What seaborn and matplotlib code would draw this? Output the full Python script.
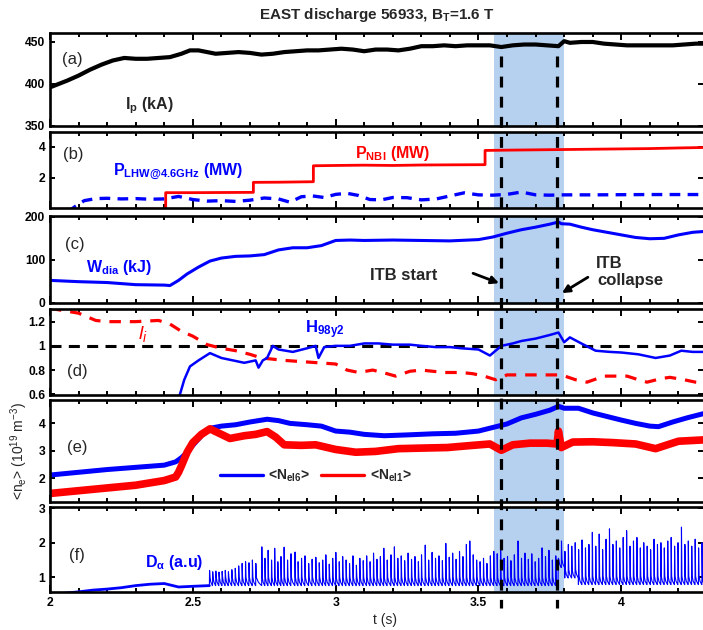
import numpy as np
import matplotlib
matplotlib.use("Agg")
import matplotlib.pyplot as plt
import seaborn as sns
from matplotlib.lines import Line2D
from matplotlib import transforms
from matplotlib.ticker import MultipleLocator

# ---------------------------------------------------------------- data
# (a) plasma current, kA
ip_t = [2.00, 2.03, 2.06, 2.10, 2.14, 2.18, 2.22, 2.26, 2.30, 2.34, 2.38, 2.42, 2.46, 2.49,
        2.52, 2.55, 2.58, 2.62, 2.66, 2.70, 2.74, 2.78, 2.82, 2.86, 2.90, 2.94, 2.98, 3.02,
        3.06, 3.10, 3.14, 3.18, 3.22, 3.26, 3.30, 3.34, 3.38, 3.42, 3.46, 3.50, 3.54, 3.58,
        3.62, 3.66, 3.70, 3.74, 3.78, 3.80, 3.82, 3.86, 3.90, 3.94, 3.98, 4.02, 4.06, 4.10,
        4.14, 4.18, 4.22, 4.26, 4.29]
ip_v = [396, 400, 404, 410, 417, 423, 428, 431, 430, 430, 431, 432, 436, 440,
        440, 438, 436, 437, 438, 437, 435, 436, 438, 439, 440, 440, 441, 442,
        441, 439, 441, 441, 440, 442, 445, 445, 446, 445, 446, 446, 446, 444,
        446, 447, 447, 446, 445, 451, 449, 450, 450, 448, 447, 446, 446, 446,
        446, 446, 447, 448, 448]

# (b) heating powers, MW
nbi_t = [2.000, 2.405, 2.405, 2.500, 2.600, 2.712, 2.712, 2.800, 2.922, 2.922, 3.000, 3.100,
         3.200, 3.300, 3.400, 3.523, 3.523, 3.600, 3.700, 3.800, 3.900, 4.000, 4.100, 4.200, 4.290]
nbi_v = [0.00, 0.00, 1.06, 1.06, 1.07, 1.08, 1.72, 1.73, 1.76, 2.78, 2.80, 2.82,
         2.80, 2.83, 2.84, 2.85, 3.76, 3.78, 3.80, 3.82, 3.84, 3.86, 3.88, 3.92, 3.95]
lhw_t = [2.00, 2.06, 2.09, 2.12, 2.16, 2.20, 2.25, 2.30, 2.35, 2.40, 2.45, 2.50, 2.55, 2.60,
         2.65, 2.70, 2.75, 2.80, 2.84, 2.88, 2.92, 2.96, 3.00, 3.04, 3.08, 3.12, 3.16, 3.20,
         3.25, 3.30, 3.35, 3.40, 3.45, 3.50, 3.55, 3.60, 3.65, 3.70, 3.75, 3.80, 3.90, 4.00,
         4.10, 4.20, 4.29]
lhw_v = [-0.50, -0.20, 0.20, 0.55, 0.68, 0.70, 0.66, 0.68, 0.64, 0.66, 0.82, 0.62, 0.52, 0.55,
         0.50, 0.58, 0.72, 0.66, 0.45, 0.80, 0.85, 0.75, 0.95, 1.02, 0.88, 0.62, 0.60, 0.75,
         0.74, 0.60, 0.65, 0.85, 1.05, 0.92, 0.90, 0.95, 1.10, 0.92, 0.90, 0.92, 0.92, 0.93,
         0.94, 0.94, 0.94]

# (c) diamagnetic stored energy, kJ
wdia_t = [2.00, 2.10, 2.20, 2.30, 2.40, 2.42, 2.45, 2.48, 2.52, 2.56, 2.60, 2.65, 2.70, 2.75,
          2.80, 2.85, 2.90, 2.95, 3.00, 3.05, 3.10, 3.20, 3.30, 3.40, 3.50, 3.55, 3.60, 3.65,
          3.70, 3.75, 3.78, 3.79, 3.82, 3.86, 3.90, 3.95, 4.00, 4.05, 4.10, 4.15, 4.20, 4.25, 4.29]
wdia_v = [52, 49, 47, 42, 41, 40, 52, 67, 83, 97, 104, 108, 109, 112,
          123, 128, 128, 133, 145, 146, 145, 146, 145, 144, 147, 153, 162, 170,
          176, 183, 188, 184, 183, 176, 170, 164, 158, 152, 149, 150, 158, 164, 166]

# (d) internal inductance and confinement factor
li_t = [2.00, 2.05, 2.10, 2.16, 2.20, 2.30, 2.38, 2.42, 2.46, 2.50, 2.55, 2.60, 2.65, 2.70,
        2.74, 2.78, 2.82, 2.88, 2.94, 3.00, 3.04, 3.08, 3.13, 3.18, 3.21, 3.26, 3.30, 3.38,
        3.44, 3.48, 3.52, 3.56, 3.60, 3.66, 3.73, 3.79, 3.84, 3.88, 3.94, 4.02, 4.06, 4.09,
        4.14, 4.17, 4.22, 4.26, 4.29]
li_v = [1.31, 1.29, 1.27, 1.21, 1.20, 1.20, 1.21, 1.18, 1.12, 1.08, 1.01, 0.98, 0.96, 0.93,
        0.90, 0.89, 0.88, 0.87, 0.86, 0.85, 0.80, 0.78, 0.80, 0.77, 0.75, 0.79, 0.80, 0.78,
        0.78, 0.77, 0.75, 0.72, 0.76, 0.76, 0.76, 0.76, 0.72, 0.70, 0.75, 0.75, 0.72, 0.70,
        0.73, 0.74, 0.72, 0.70, 0.69]
h98_t = [2.440, 2.455, 2.470, 2.490, 2.520, 2.560, 2.600, 2.640, 2.680, 2.720, 2.730, 2.745,
         2.760, 2.780, 2.800, 2.850, 2.900, 2.930, 2.940, 2.960, 3.000, 3.050, 3.100, 3.150,
         3.200, 3.260, 3.300, 3.350, 3.400, 3.440, 3.500, 3.540, 3.580, 3.620, 3.650, 3.700,
         3.750, 3.780, 3.800, 3.820, 3.860, 3.910, 3.960, 4.000, 4.060, 4.120, 4.170, 4.210,
         4.250, 4.290]
h98_v = [0.50, 0.60, 0.72, 0.83, 0.88, 0.94, 0.90, 0.88, 0.86, 0.88, 0.82, 0.88,
         0.90, 1.00, 0.97, 0.95, 0.98, 1.00, 0.90, 0.99, 1.00, 1.00, 1.02, 1.02,
         1.01, 1.01, 1.00, 0.99, 0.99, 0.98, 0.97, 0.92, 1.00, 1.02, 1.04, 1.06,
         1.09, 1.11, 1.03, 1.07, 1.02, 0.96, 0.95, 0.945, 0.93, 0.90, 0.92, 0.96,
         0.95, 0.95]

# (e) line-averaged densities, 1e19 m^-3
ne6_t = [2.00, 2.10, 2.20, 2.30, 2.40, 2.44, 2.46, 2.48, 2.50, 2.53, 2.56, 2.60, 2.65, 2.70,
         2.76, 2.80, 2.84, 2.90, 2.95, 3.00, 3.05, 3.10, 3.17, 3.25, 3.34, 3.42, 3.50, 3.55,
         3.60, 3.65, 3.70, 3.75, 3.78, 3.80, 3.85, 3.90, 3.95, 4.00, 4.05, 4.10, 4.13, 4.18,
         4.23, 4.29]
ne6_v = [2.12, 2.22, 2.32, 2.40, 2.48, 2.60, 2.75, 2.95, 3.20, 3.55, 3.82, 3.90, 3.95, 4.05,
         4.15, 4.10, 4.00, 3.95, 3.90, 3.72, 3.68, 3.60, 3.55, 3.58, 3.62, 3.64, 3.72, 3.85,
         3.98, 4.20, 4.33, 4.48, 4.62, 4.55, 4.55, 4.38, 4.25, 4.12, 4.00, 3.90, 3.88, 4.05,
         4.20, 4.36]
ne1_t = [2.00, 2.10, 2.20, 2.30, 2.40, 2.44, 2.45, 2.46, 2.47, 2.48, 2.50, 2.53, 2.56, 2.60,
         2.63, 2.68, 2.72, 2.76, 2.79, 2.82, 2.88, 2.93, 3.00, 3.07, 3.14, 3.22, 3.30, 3.39,
         3.48, 3.54, 3.58, 3.62, 3.68, 3.74, 3.775, 3.78, 3.79, 3.83, 3.90, 3.97, 4.05, 4.12,
         4.20, 4.29]
ne1_v = [1.45, 1.55, 1.65, 1.75, 1.92, 2.05, 2.22, 2.45, 2.70, 2.95, 3.30, 3.60, 3.80, 3.60,
         3.45, 3.55, 3.60, 3.70, 3.50, 3.22, 3.20, 3.22, 3.05, 2.95, 2.98, 3.08, 3.10, 3.12,
         3.20, 3.25, 3.02, 3.22, 3.28, 3.28, 3.25, 3.72, 3.12, 3.32, 3.33, 3.30, 3.25, 3.08,
         3.35, 3.40]

# (f) D-alpha emission: L-mode level, ELM times and ELM peak heights (a.u.)
dalpha_pre_t = [2.00, 2.10, 2.15, 2.20, 2.25, 2.30, 2.35, 2.40, 2.42, 2.45, 2.50, 2.558]
dalpha_pre_v = [0.50, 0.58, 0.63, 0.66, 0.70, 0.76, 0.80, 0.82, 0.78, 0.72, 0.74, 0.76]
elm_t = [2.558, 2.569, 2.580, 2.591,
         2.602, 2.613, 2.624, 2.636, 2.648, 2.660, 2.672, 2.684, 2.696,
         2.708, 2.720, 2.741, 2.752, 2.763, 2.775, 2.786, 2.797,
         2.808, 2.819, 2.831, 2.843, 2.857, 2.868, 2.880, 2.892,
         2.905, 2.917, 2.930, 2.942, 2.954, 2.965, 2.977, 2.989,
         3.000, 3.012, 3.024, 3.036, 3.048, 3.060, 3.072, 3.084, 3.096,
         3.108, 3.120, 3.132, 3.144, 3.156, 3.168, 3.180, 3.193,
         3.205, 3.217, 3.229, 3.241, 3.253, 3.265, 3.277, 3.289,
         3.300, 3.313, 3.325, 3.337, 3.349, 3.361, 3.373, 3.385, 3.397,
         3.409, 3.421, 3.433, 3.445, 3.457, 3.469, 3.481, 3.493,
         3.505, 3.517, 3.529, 3.541, 3.553, 3.565, 3.577, 3.589,
         3.601, 3.613, 3.625, 3.638, 3.650, 3.662, 3.674, 3.686, 3.698,
         3.710, 3.722, 3.734, 3.746, 3.758, 3.770, 3.779,
         3.790, 3.802, 3.814, 3.826, 3.838, 3.850, 3.862, 3.874, 3.886, 3.898,
         3.910, 3.922, 3.934, 3.946, 3.958, 3.970, 3.982, 3.994,
         4.006, 4.018, 4.030, 4.042, 4.054, 4.066, 4.078, 4.090,
         4.102, 4.114, 4.126, 4.138, 4.150, 4.162, 4.174, 4.186, 4.198,
         4.210, 4.222, 4.234, 4.246, 4.258, 4.270, 4.282]
elm_peak = [1.20, 1.16, 1.18, 1.15,
            1.17, 1.20, 1.16, 1.22, 1.26, 1.33, 1.40, 1.45, 1.42,
            1.50, 1.40, 1.88, 1.55, 1.78, 1.50, 1.84, 1.45,
            1.60, 1.87, 1.50, 1.68, 1.73, 1.45, 1.55, 1.62,
            1.40, 1.52, 1.58, 1.42, 1.50, 1.65, 1.38, 1.55,
            1.72, 1.45, 1.60, 1.50, 1.40, 1.62, 1.35, 1.55, 1.48,
            1.62, 1.45, 1.70, 1.52, 1.60, 1.84, 1.50, 1.65,
            1.88, 1.55, 1.62, 1.48, 1.70, 1.52, 1.60, 1.45,
            1.65, 1.93, 1.50, 1.72, 1.55, 1.62, 1.48, 1.98, 1.58,
            1.70, 1.52, 1.75, 1.60, 1.95, 2.05, 1.65, 1.50,
            1.45, 1.55, 1.40, 1.62, 1.75, 1.68, 1.85, 1.55,
            1.60, 1.48, 1.65, 2.05, 1.55, 1.70, 1.52, 1.68, 1.45,
            1.55, 1.85, 1.60, 1.78, 1.50, 1.62, 1.55,
            2.05, 1.75, 1.95, 1.90, 2.00, 1.80, 2.08, 1.85, 1.95, 2.30,
            1.90, 2.25, 1.80, 2.10, 2.40, 1.95, 2.05, 1.85,
            2.15, 2.35, 1.90, 2.05, 2.15, 1.85, 2.00, 1.90,
            1.80, 2.10, 1.95, 2.00, 1.85, 2.05, 2.15, 1.90, 2.00,
            2.45, 1.95, 2.05, 1.90, 2.10, 1.85, 2.00]
# inter-ELM floor level, stepwise in time
dalpha_floor_t = [2.55, 3.779, 3.800, 3.845]
dalpha_floor_v = [0.76, 1.28, 0.98, 0.79]

t_end = 4.29
itb_start, itb_collapse = 3.58, 3.776
itb_window = (3.553, 3.800)

# ---------------------------------------------------------------- style
BLUE, RED = "#0000ff", "#ff0000"
SHADE = "#b6d0f0"

sns.set_theme(style="ticks")
plt.rcParams.update({
    "font.family": ["Liberation Sans", "DejaVu Sans"],
    "mathtext.fontset": "custom",
    "mathtext.rm": "Liberation Sans",
    "mathtext.it": "Liberation Sans:italic",
    "mathtext.bf": "Liberation Sans:bold",
    "mathtext.sf": "Liberation Sans",
    "axes.linewidth": 1.9,
    "axes.edgecolor": "black",
    "xtick.color": "black",
    "ytick.color": "black",
})

W, H = 703, 630
fig = plt.figure(figsize=(W / 100, H / 100), dpi=100)

# panel boxes as (top, bottom) in pixels
boxes = [(33, 126), (131.7, 208.3), (216, 302.7), (309.3, 395), (400, 501.7), (506.7, 591.7)]
x0_px, x1_px = 50, 703
axes = []
for top, bot in boxes:
    ax = fig.add_axes([x0_px / W, 1 - bot / H, (x1_px - x0_px) / W, (bot - top) / H])
    axes.append(ax)

ylims = [(350, 460.7), (0.06, 4.96), (0, 202), (0.594, 1.302), (1.15, 4.85), (0.584, 3.04)]
yticks = [([350, 400, 450], ["350", "400", "450"]),
          ([2, 4], ["2", "4"]),
          ([0, 100, 200], ["0", "100", "200"]),
          ([0.6, 0.8, 1.0, 1.2], ["0.6", "0.8", "1", "1.2"]),
          ([2, 3, 4], ["2", "3", "4"]),
          ([1, 2, 3], ["1", "2", "3"])]

for i, ax in enumerate(axes):
    ax.set_xlim(2.0, 4.286)
    ax.set_ylim(*ylims[i])
    ax.set_yticks(yticks[i][0], yticks[i][1])
    ax.xaxis.set_major_locator(MultipleLocator(0.5))
    ax.xaxis.set_minor_locator(MultipleLocator(0.1))
    ax.tick_params(axis="x", which="both", direction="in", top=True, bottom=True,
                   width=1.4, labelsize=8.8, pad=4)
    ax.tick_params(axis="x", which="major", length=5)
    ax.tick_params(axis="x", which="minor", length=3.2)
    ax.tick_params(axis="y", which="major", direction="in", left=True, right=True,
                   length=3.5, width=1.4, labelsize=8.7, pad=3.5)
    for lab in ax.get_yticklabels() + ax.get_xticklabels():
        lab.set_fontweight("bold")
    ax.spines["right"].set_visible(False)
    for s in ("top", "bottom", "left"):
        ax.spines[s].set_linewidth(1.9)
    if i < len(axes) - 1:
        ax.tick_params(axis="x", labelbottom=False)
    ax.axvspan(*itb_window, color=SHADE, lw=0, zorder=0)
    ax.set_facecolor("white")

ax_a, ax_b, ax_c, ax_d, ax_e, ax_f = axes
common = dict(estimator=None, sort=False, legend=False)

# (a) Ip
sns.lineplot(x=ip_t, y=ip_v, ax=ax_a, color="black", lw=3.0, **common)
ax_a.text(2.077, 428.6, "(a)", fontsize=12, ha="center", va="center")
ax_a.text(2.262, 370, r"I$_\mathbf{p}$ (kA)", fontsize=11.5, fontweight="bold", va="baseline")

# (b) heating powers
sns.lineplot(x=nbi_t, y=nbi_v, ax=ax_b, color=RED, lw=2.0, **common)
sns.lineplot(x=lhw_t, y=lhw_v, ax=ax_b, color=BLUE, lw=2.4,
             linestyle=(0, (3.2, 2.2)), **common)
ax_b.text(2.08, 3.47, "(b)", fontsize=12, ha="center", va="center")
ax_b.text(2.22, 2.19, r"P$_\mathbf{LHW@4.6GHz}$ (MW)", color=BLUE, fontsize=11.5,
          fontweight="bold", va="baseline")
ax_b.text(3.068, 3.28, r"P$_\mathbf{NBI}$ (MW)", color=RED, fontsize=11.5,
          fontweight="bold", va="baseline")

# (c) stored energy
sns.lineplot(x=wdia_t, y=wdia_v, ax=ax_c, color=BLUE, lw=2.2, **common)
ax_c.text(2.0875, 135, "(c)", fontsize=12, ha="center", va="center")
ax_c.text(2.126, 71, r"W$_\mathbf{dia}$ (kJ)", color=BLUE, fontsize=11.5,
          fontweight="bold", va="baseline")
ax_c.text(3.12, 52, "ITB start", fontsize=12, fontweight="bold", va="baseline")
ax_c.text(3.911, 82, "ITB", fontsize=12, fontweight="bold", va="baseline")
ax_c.text(3.915, 41, "collapse", fontsize=12, fontweight="bold", va="baseline")
arrow = dict(arrowstyle="-|>", color="black", lw=2.0, mutation_scale=11, shrinkA=0, shrinkB=0)
ax_c.annotate("", xy=(3.572, 45.5), xytext=(3.481, 68.5), arrowprops=arrow)
ax_c.annotate("", xy=(3.792, 22.4), xytext=(3.883, 59.3), arrowprops=arrow)

# (d) li and H98
ax_d.axhline(1.0, color="black", lw=2.2, linestyle=(0, (3.6, 2.4)), zorder=2)
sns.lineplot(x=li_t, y=li_v, ax=ax_d, color=RED, lw=2.3,
             linestyle=(0, (3.6, 2.8)), **common)
sns.lineplot(x=h98_t, y=h98_v, ax=ax_d, color=BLUE, lw=1.8, **common)
ax_d.text(2.094, 0.785, "(d)", fontsize=12, ha="center", va="center")
ax_d.text(2.308, 1.057, r"$\mathit{l}_\mathit{i}$", color=RED, fontsize=14, va="baseline")
ax_d.text(2.893, 1.107, r"H$_\mathbf{98y2}$", color=BLUE, fontsize=12,
          fontweight="bold", va="baseline")

# (e) densities
sns.lineplot(x=ne6_t, y=ne6_v, ax=ax_e, color=BLUE, lw=3.6, **common)
sns.lineplot(x=ne1_t, y=ne1_v, ax=ax_e, color=RED, lw=5.5, **common)
ax_e.text(2.094, 3.14, "(e)", fontsize=12, ha="center", va="center")
ax_e.set_ylabel(r"<n$_\mathregular{e}$> (10$^{\mathregular{19}}$ m$^{\mathregular{-3}}$)",
                fontsize=10)
ax_e.yaxis.set_label_coords(-0.031, 0.5)
handles = [Line2D([], [], color=BLUE, lw=2.4), Line2D([], [], color=RED, lw=2.4)]
ax_e.legend(handles, [r"<N$_\mathbf{el6}$>", r"<N$_\mathbf{el1}$>"], ncol=2, frameon=False,
            loc="center left", bbox_to_anchor=(0.26, 0.253), borderpad=0, borderaxespad=0,
            handlelength=3.1, handletextpad=0.4, columnspacing=0.8,
            prop={"size": 10, "weight": "bold"})

# (f) D-alpha: L-mode part, then ELM bursts
sns.lineplot(x=dalpha_pre_t, y=dalpha_pre_v, ax=ax_f, color=BLUE, lw=2.0, **common)
da_t, da_v = [], []
for k, (t0, pk) in enumerate(zip(elm_t, elm_peak)):
    t1 = elm_t[k + 1] if k + 1 < len(elm_t) else t_end
    lo = dalpha_floor_v[np.searchsorted(dalpha_floor_t, t0, side="right") - 1]
    dt = t1 - t0
    da_t += [t0, t0 + 0.0006, t0 + 0.0022, t0 + 0.45 * dt, t0 + 0.7 * dt, t1 - 0.0004]
    da_v += [lo, pk, lo + 0.24, lo + 0.10, lo + 0.05, lo]
sns.lineplot(x=da_t, y=da_v, ax=ax_f, color=BLUE, lw=0.8, **common)
ax_f.text(2.094, 1.64, "(f)", fontsize=12, ha="center", va="center")
ax_f.text(2.333, 1.31, r"D$_{\mathbf{\alpha}}$ (a.u)", color=BLUE, fontsize=11.5,
          fontweight="bold", va="baseline")
ax_f.set_xticks([2, 2.5, 3, 3.5, 4], ["2", "2.5", "3", "3.5", "4"])
for lab in ax_f.get_xticklabels():
    lab.set_fontweight("bold")
ax_f.set_xlabel("t (s)", fontsize=10)
ax_f.xaxis.set_label_coords((385 - 50) / 653, -0.25)

# ITB markers spanning all panels
blend = transforms.blended_transform_factory(ax_f.transData, fig.transFigure)
for tx in (itb_start, itb_collapse):
    fig.add_artist(Line2D([tx, tx], [1 - 56 / H, 1 - 608 / H], transform=blend,
                          color="black", lw=2.3, linestyle=(0, (3.4, 2.9)), zorder=10))

fig.text(376.5 / W, 1 - 15 / H, r"EAST discharge 56933, B$_\mathbf{T}$=1.6 T",
         fontsize=11, fontweight="bold", ha="center", va="center")

fig.savefig("out.png", dpi=100, facecolor="white")
